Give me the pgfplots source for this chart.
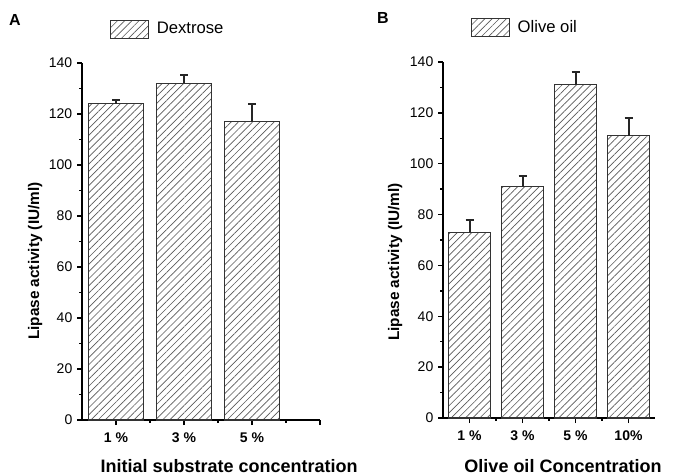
\documentclass[border=0pt]{standalone}
\usepackage{fontspec}
\setmainfont{Liberation Sans}
\usepackage{pgfplots}
\usepackage{pgfplotstable}
\pgfplotsset{compat=1.18}
\usetikzlibrary{patterns.meta}

\pgfplotstableread{
x y e
1 124 1.5
2 132 3.3
3 117 7
}\dataA
\pgfplotstableread{
x y e
1 73 5
2 91 4
3 131 5
4 111 7
}\dataB

\tikzset{
  hatchbar/.style={draw=black!80, line width=0.8pt,
    pattern={Lines[angle=45,distance=3.8pt,line width=0.5pt]}, pattern color=black!65},
}

\pgfplotsset{
  panel/.style={
    scale only axis,
    axis x line*=bottom, axis y line*=left,
    ymin=0, ymax=140, ytick={0,20,...,140}, minor y tick num=1,
    minor x tick num=1,
    tick align=outside,
    major tick length=3.75pt, minor tick length=2.2pt,
    every tick/.style={black, line width=1pt},
    axis line style={black, line width=1.1pt},
    /pgf/number format/assume math mode=true,
    y tick label style={font=\fontsize{10.5}{12}\selectfont},
    x tick label style={font=\bfseries\fontsize{10.5}{12}\selectfont, yshift=-2pt},
    ylabel={Lipase activity (IU/ml)},
    ylabel style={font=\bfseries\fontsize{11.5}{13}\selectfont, anchor=center, rotate=0},
    xlabel style={font=\bfseries\fontsize{13.5}{16}\selectfont, anchor=center},
    legend style={draw=none, fill=none, anchor=west, inner sep=0pt, column sep=3.5pt,
      font=\fontsize{12.5}{14}\selectfont},
    legend cell align=left,
  },
  barplot/.style={ybar, bar width=0.8, hatchbar,
    legend image code/.code={\draw[hatchbar] (0pt,-6.75pt) rectangle (28.5pt,6.75pt);},
    error bars/.cd, y dir=plus, y explicit,
    error bar style={line width=1.5pt, black!85},
    error mark options={rotate=90, mark size=3pt, line width=1.5pt, black!85}},
}

\begin{document}
\begin{tikzpicture}
\path[use as bounding box] (0,0) rectangle (504.75pt,-356.25pt);

\node[font=\bfseries\fontsize{12}{14}\selectfont] at (11.25pt,-15pt) {A};
\node[font=\bfseries\fontsize{12}{14}\selectfont] at (287.25pt,-13.5pt) {B};

\begin{axis}[panel,
  at={(61.5pt,-315pt)}, anchor=south west,
  width=178.5pt, height=267.75pt,
  xmin=0.5, xmax=4,
  xtick={1,2,3,4}, xticklabels={1 \%,3 \%,5 \%,{}},
  xlabel={Initial substrate concentration},
  xlabel style={at={(axis description cs:0.618,-0.129)}},
  ylabel style={at={(axis description cs:-0.197,0.445)}},
  legend style={at={(0.118,1.095)}},
]
\addplot[barplot] table[x=x,y=y,y error=e] {\dataA};
\addlegendentry{Dextrose}
\end{axis}

\begin{axis}[panel,
  at={(332.25pt,-313.5pt)}, anchor=south west,
  width=159pt, height=267pt,
  xmin=0.5, xmax=4.5,
  xtick={1,2,3,4}, xticklabels={1 \%,3 \%,5 \%,10\%},
  xlabel={Olive oil Concentration},
  xlabel style={at={(axis description cs:0.566,-0.135)}},
  ylabel style={at={(axis description cs:-0.226,0.438)}},
  legend style={at={(0.132,1.097)}},
]
\addplot[barplot] table[x=x,y=y,y error=e] {\dataB};
\addlegendentry{Olive oil}
\end{axis}
\end{tikzpicture}
\end{document}
